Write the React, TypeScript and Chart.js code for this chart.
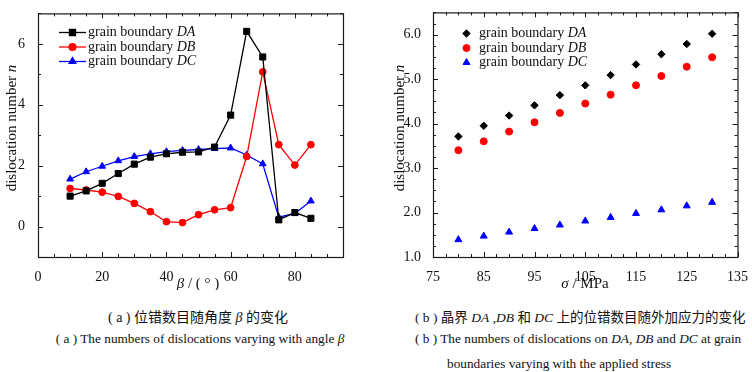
import React, { useEffect, useRef } from "react";
import { Chart, registerables } from "chart.js";
import { drawPoint } from "chart.js/helpers";

Chart.register(...registerables);

// ---------- data: panel (a) ----------
const betaAngles = [10, 15, 20, 25, 30, 35, 40, 45, 50, 55, 60, 65, 70, 75, 80, 85];
const nDA_beta = [1.0, 1.17, 1.42, 1.74, 2.05, 2.28, 2.39, 2.44, 2.45, 2.61, 3.66, 6.41, 5.57, 0.22, 0.46, 0.27];
const nDB_beta = [1.25, 1.2, 1.13, 0.99, 0.76, 0.49, 0.16, 0.13, 0.39, 0.55, 0.62, 2.3, 5.08, 2.69, 2.02, 2.69];
const nDC_beta = [1.56, 1.8, 1.98, 2.16, 2.3, 2.39, 2.46, 2.5, 2.53, 2.56, 2.58, 2.35, 2.06, 0.31, 0.43, 0.84];
const betaTicks = [0, 20, 40, 60, 80];
const nTicksA = [0, 2, 4, 6];

// ---------- data: panel (b) ----------
const stress = [80, 85, 90, 95, 100, 105, 110, 115, 120, 125, 130];
const nDA_stress = [3.71, 3.95, 4.18, 4.41, 4.64, 4.86, 5.09, 5.33, 5.56, 5.79, 6.02];
const nDB_stress = [3.4, 3.6, 3.82, 4.03, 4.24, 4.45, 4.65, 4.86, 5.07, 5.28, 5.49];
const nDC_stress = [1.39, 1.47, 1.56, 1.64, 1.72, 1.81, 1.89, 1.98, 2.06, 2.15, 2.23];
const stressTicks = [75, 85, 95, 105, 115, 125, 135];
const nTicksB = [1, 2, 3, 4, 5, 6];

const legendNames = ["DA", "DB", "DC"];
const seriesColors = ["#000000", "#ff0000", "#0000ff"];

const SERIF = "'Liberation Serif', 'Times New Roman', serif";

type Part = { t: string; it?: boolean };

function richWidth(ctx: CanvasRenderingContext2D, parts: Part[], size: number) {
  let w = 0;
  for (const p of parts) {
    ctx.font = `${p.it ? "italic " : ""}${size}px ${SERIF}`;
    w += ctx.measureText(p.t).width;
  }
  return w;
}

function drawRich(ctx: CanvasRenderingContext2D, parts: Part[], x: number, y: number, size: number, align: "left" | "center") {
  const w = richWidth(ctx, parts, size);
  let cx = align === "center" ? x - w / 2 : x;
  ctx.textBaseline = "middle";
  ctx.textAlign = "left";
  for (const p of parts) {
    ctx.font = `${p.it ? "italic " : ""}${size}px ${SERIF}`;
    ctx.fillText(p.t, cx, y);
    cx += ctx.measureText(p.t).width;
  }
}

const framePlugin = {
  id: "frame",
  afterDraw(chart: any, _args: any, opts: any) {
    const { ctx, chartArea: a } = chart;
    const xs = chart.scales.x;
    const ys = chart.scales.y;
    ctx.save();
    ctx.strokeStyle = "#1a1a1a";
    ctx.lineWidth = 1.2;
    ctx.strokeRect(a.left + 0.5, a.top + 0.5, a.right - a.left, a.bottom - a.top);
    ctx.lineWidth = 1;
    const seg = (x1: number, y1: number, x2: number, y2: number) => {
      ctx.beginPath();
      ctx.moveTo(x1, y1);
      ctx.lineTo(x2, y2);
      ctx.stroke();
    };
    const round = (v: number) => Math.round(v * 1000) / 1000;
    const xMaj = new Set(xs.ticks.map((t: any) => round(t.value)));
    for (let v = xs.min; v <= xs.max + 1e-9; v += opts.xMinor) {
      const vv = round(v);
      const p = Math.round(xs.getPixelForValue(vv)) + 0.5;
      const len = xMaj.has(vv) ? 5 : 3;
      seg(p, a.bottom, p, a.bottom - len);
      seg(p, a.top, p, a.top + len);
    }
    const yMaj = new Set(ys.ticks.map((t: any) => round(t.value)));
    for (let v = ys.min; v <= ys.max + 1e-9; v += opts.yMinor) {
      const vv = round(v);
      const p = Math.round(ys.getPixelForValue(vv)) + 0.5;
      const len = yMaj.has(vv) ? 5 : 3;
      seg(a.left, p, a.left + len, p);
      seg(a.right, p, a.right - len, p);
    }
    ctx.restore();
  },
};

const annotPlugin = {
  id: "annot",
  afterDraw(chart: any, _args: any, opts: any) {
    const { ctx } = chart;
    ctx.save();
    ctx.fillStyle = "#111";
    // x title
    drawRich(ctx, opts.xTitle, opts.xTitlePos[0], opts.xTitlePos[1], 15, "center");
    // y title
    ctx.save();
    ctx.translate(opts.yTitlePos[0], opts.yTitlePos[1]);
    ctx.rotate(-Math.PI / 2);
    drawRich(ctx, opts.yTitle, 0, 0, 15, "center");
    ctx.restore();
    // legend
    const L = opts.legend;
    chart.data.datasets.forEach((ds: any, i: number) => {
      const y = L.y[i];
      if (L.line) {
        ctx.strokeStyle = ds.borderColor;
        ctx.lineWidth = 1.3;
        ctx.beginPath();
        ctx.moveTo(L.lineX[0], y);
        ctx.lineTo(L.lineX[1], y);
        ctx.stroke();
      }
      ctx.fillStyle = ds.backgroundColor;
      ctx.strokeStyle = ds.borderColor;
      drawPoint(ctx, { pointStyle: ds.pointStyle, radius: ds.pointRadius, rotation: 0, borderWidth: 1 }, L.markerX, y);
      ctx.fillStyle = "#111";
      drawRich(ctx, [{ t: "grain boundary " }, { t: legendNames[i], it: true }], L.textX, y, 14, "left");
    });
    ctx.restore();
  },
};

const tickFont = { family: SERIF, size: 14 };

function makeChartA(canvas: HTMLCanvasElement) {
  const mk = (vals: number[]) => betaAngles.map((x, i) => ({ x, y: vals[i] }));
  const styles = ["rect", "circle", "triangle"];
  const radii = [4.3, 3.4, 3.9];
  const series = [nDA_beta, nDB_beta, nDC_beta];
  return new Chart(canvas, {
    type: "line",
    data: {
      datasets: series.map((s, i) => ({
        label: "grain boundary " + legendNames[i],
        data: mk(s),
        borderColor: seriesColors[i],
        backgroundColor: seriesColors[i],
        borderWidth: 1.3,
        pointStyle: styles[i],
        pointRadius: radii[i],
        pointBorderWidth: 1,
        tension: 0,
      })),
    },
    options: {
      animation: false,
      responsive: false,
      devicePixelRatio: 1,
      layout: { padding: { top: 11, right: 33, left: 0, bottom: 0 } },
      plugins: {
        legend: { display: false },
        tooltip: { enabled: false },
        frame: { xMinor: 5, yMinor: 1 },
        annot: {
          xTitle: [{ t: "β", it: true }, { t: " / ( ° )" }],
          xTitlePos: [198, 284],
          yTitle: [{ t: "dislocation number " }, { t: "n", it: true }],
          yTitlePos: [12, 128],
          legend: { line: true, lineX: [59, 86], markerX: 72.5, textX: 88, y: [32.5, 47, 61.5] },
        },
      } as any,
      scales: {
        x: {
          type: "linear",
          min: 0,
          max: 95,
          grid: { display: false },
          border: { display: false },
          ticks: { font: tickFont, color: "#111", padding: 4, maxRotation: 0 },
          afterBuildTicks: (s: any) => { s.ticks = betaTicks.map((v) => ({ value: v })); },
          afterFit: (s: any) => { s.height = 33; },
        },
        y: {
          type: "linear",
          min: -1,
          max: 7,
          grid: { display: false },
          border: { display: false },
          ticks: { font: tickFont, color: "#111", padding: 5 },
          afterBuildTicks: (s: any) => { s.ticks = nTicksA.map((v) => ({ value: v })); },
          afterFit: (s: any) => { s.width = 38; },
        },
      },
    } as any,
    plugins: [framePlugin, annotPlugin],
  });
}

function makeChartB(canvas: HTMLCanvasElement) {
  const mk = (vals: number[]) => stress.map((x, i) => ({ x, y: vals[i] }));
  const styles = ["rectRot", "circle", "triangle"];
  const radii = [3.7, 3.5, 4.0];
  const series = [nDA_stress, nDB_stress, nDC_stress];
  return new Chart(canvas, {
    type: "scatter",
    data: {
      datasets: series.map((s, i) => ({
        label: "grain boundary " + legendNames[i],
        data: mk(s),
        borderColor: seriesColors[i],
        backgroundColor: seriesColors[i],
        pointStyle: styles[i],
        pointRadius: radii[i],
        pointBorderWidth: 1,
        showLine: false,
      })),
    },
    options: {
      animation: false,
      responsive: false,
      devicePixelRatio: 1,
      layout: { padding: { top: 11, right: 13, left: 0, bottom: 0 } },
      plugins: {
        legend: { display: false },
        tooltip: { enabled: false },
        frame: { xMinor: 2.5, yMinor: 0.25 },
        annot: {
          xTitle: [{ t: "σ", it: true }, { t: " / MPa" }],
          xTitlePos: [209, 284],
          yTitle: [{ t: "dislocation number " }, { t: "n", it: true }],
          yTitlePos: [24, 128],
          legend: { line: false, markerX: 90.5, textX: 103, y: [33.5, 48, 62.5] },
        },
      } as any,
      scales: {
        x: {
          type: "linear",
          min: 75,
          max: 135,
          grid: { display: false },
          border: { display: false },
          ticks: { font: tickFont, color: "#111", padding: 4, maxRotation: 0 },
          afterBuildTicks: (s: any) => { s.ticks = stressTicks.map((v) => ({ value: v })); },
          afterFit: (s: any) => { s.height = 33; },
        },
        y: {
          type: "linear",
          min: 1,
          max: 6.5,
          grid: { display: false },
          border: { display: false },
          ticks: { font: tickFont, color: "#111", padding: 4, callback: (v: any) => Number(v).toFixed(1) },
          afterBuildTicks: (s: any) => { s.ticks = nTicksB.map((v) => ({ value: v })); },
          afterFit: (s: any) => { s.width = 57; },
        },
      },
    } as any,
    plugins: [framePlugin, annotPlugin],
  });
}

const capBase: React.CSSProperties = {
  position: "absolute",
  whiteSpace: "nowrap",
  fontFamily: "'Liberation Serif', 'Noto Sans CJK SC', serif",
  color: "#111",
  lineHeight: "18px",
};

export default function App() {
  const refA = useRef<HTMLCanvasElement>(null);
  const refB = useRef<HTMLCanvasElement>(null);
  useEffect(() => {
    const a = makeChartA(refA.current!);
    const b = makeChartB(refB.current!);
    return () => {
      a.destroy();
      b.destroy();
    };
  }, []);
  return (
    <div style={{ position: "absolute", left: 0, top: 0, width: 752, height: 372, background: "#fff", overflow: "hidden" }}>
      <canvas ref={refA} width={376} height={290} style={{ position: "absolute", left: 0, top: 0 }} />
      <canvas ref={refB} width={376} height={290} style={{ position: "absolute", left: 376, top: 0 }} />
      <div style={{ ...capBase, left: 198, top: 309, transform: "translateX(-50%)", fontSize: 14 }}>
        ( a ) 位错数目随角度 <i>β</i> 的变化
      </div>
      <div style={{ ...capBase, left: 200, top: 330, transform: "translateX(-50%)", fontSize: 13.3 }}>
        ( a ) The numbers of dislocations varying with angle <i>β</i>
      </div>
      <div style={{ ...capBase, left: 415, top: 309, fontSize: 13.5 }}>
        ( b ) 晶界 <i>DA</i> ,<i>DB</i> 和 <i>DC</i> 上的位错数目随外加应力的变化
      </div>
      <div style={{ ...capBase, left: 415, top: 330, fontSize: 13.3 }}>
        ( b ) The numbers of dislocations on <i>DA</i>, <i>DB</i> and <i>DC</i> at grain
      </div>
      <div style={{ ...capBase, left: 447, top: 355, fontSize: 13.3 }}>
        boundaries varying with the applied stress
      </div>
    </div>
  );
}
